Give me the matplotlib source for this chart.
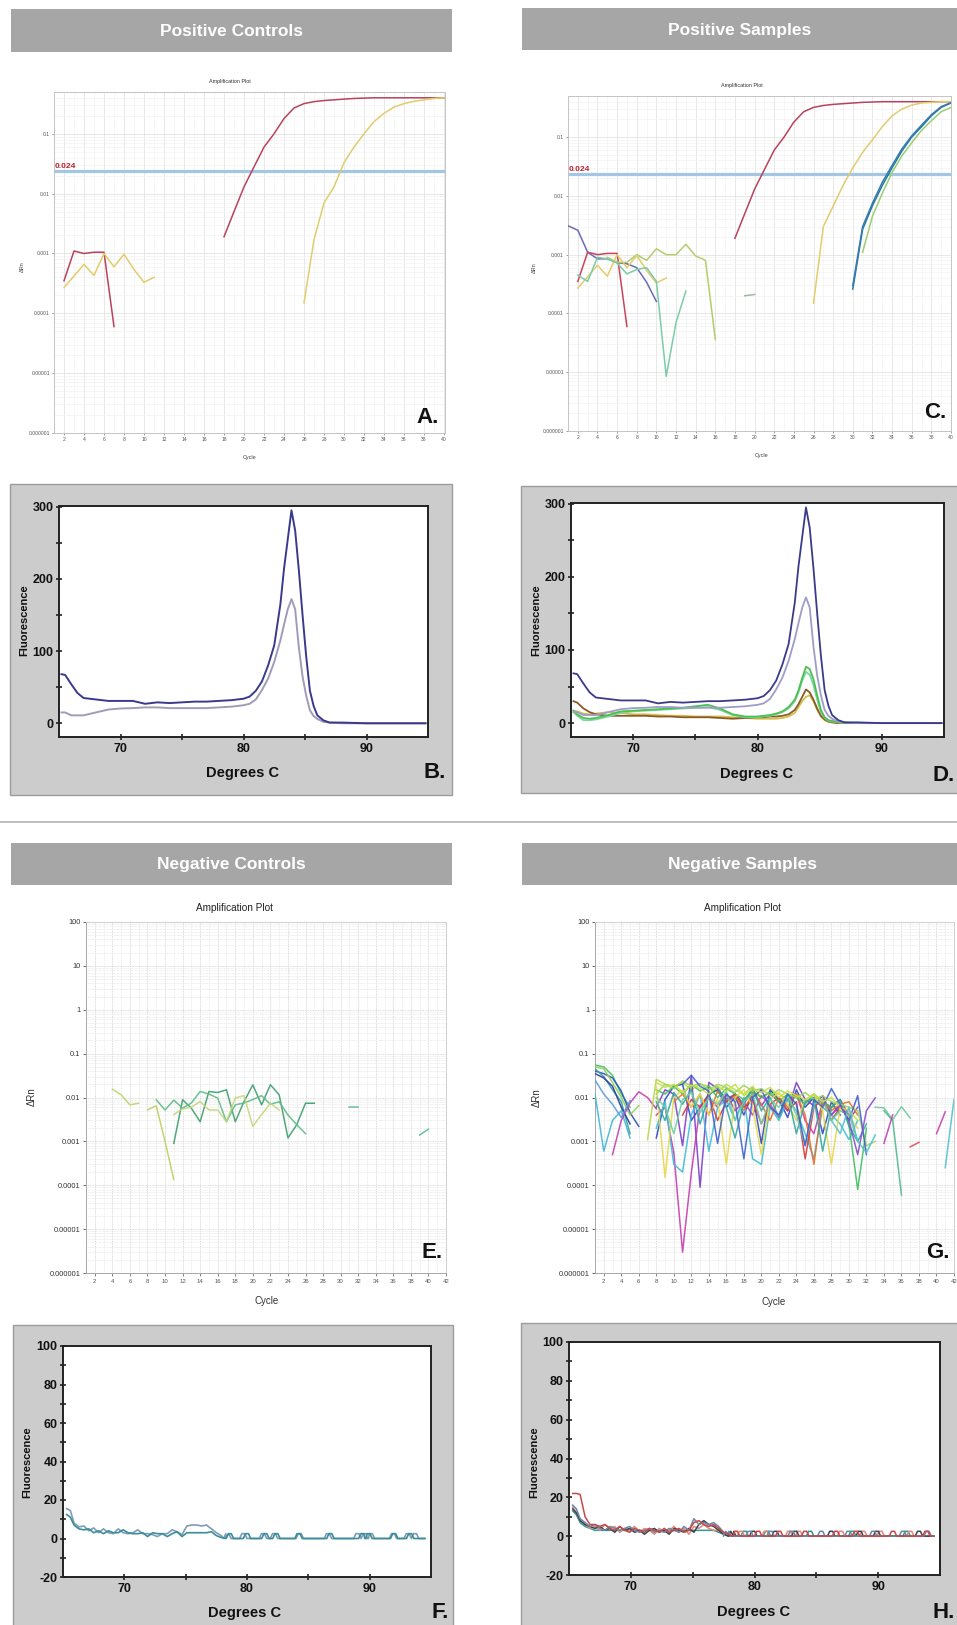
import matplotlib
matplotlib.use('Agg')
import matplotlib.pyplot as plt
from matplotlib.patches import Rectangle
from matplotlib.lines import Line2D
from matplotlib.ticker import LogLocator, NullFormatter
import numpy as np

W, H = 957, 1625
NARROW = ['Liberation Sans Narrow', 'Liberation Sans', 'DejaVu Sans']
SANS = ['Liberation Sans', 'DejaVu Sans']
plt.rcParams['font.family'] = SANS
plt.rcParams['axes.unicode_minus'] = False

# ---------------- DATA ----------------
threshold = 0.024
amp_small_yticks = [1e-6, 1e-5, 1e-4, 1e-3, 1e-2, 1e-1]
amp_small_ylabels = ['0.000001', '0.00001', '0.0001', '0.001', '0.01', '0.1']
amp_big_yticks = [1e-6, 1e-5, 1e-4, 1e-3, 1e-2, 1e-1, 1, 10, 100]
amp_big_ylabels = ['0.000001', '0.00001', '0.0001', '0.001', '0.01', '0.1', '1', '10', '100']

# Panel A (positive controls)
A_starts = [2, 18, 2, 26]
A_values = [
    [0.00035, 0.0011, 0.001, 0.00105, 0.00105, 0.00006],
    [0.0019, 0.005, 0.013, 0.028, 0.06, 0.1, 0.18, 0.27, 0.32, 0.345, 0.36, 0.37,
     0.38, 0.39, 0.395, 0.4, 0.4, 0.4, 0.4, 0.4, 0.4, 0.4, 0.4],
    [0.00027, 0.00042, 0.00066, 0.00043, 0.001, 0.0006, 0.00097, 0.00054, 0.00033, 0.0004],
    [0.00015, 0.0017, 0.007, 0.013, 0.033, 0.06, 0.1, 0.16, 0.22, 0.28, 0.32, 0.35,
     0.37, 0.39, 0.4],
]
A_colors = ['#b8435c', '#b8435c', '#e2cc6c', '#e2cc6c']

# Panel C (positive samples)
C_starts = [1, 2, 5, 2, 2, 19, 18, 26, 30, 30, 31]
C_values = [
    [0.0031, 0.0026, 0.0011, 0.00085, 0.00085, 0.00073, 0.0007, 0.0006, 0.00034, 0.00016],
    [0.00035, 0.0011, 0.001, 0.00105, 0.00105, 0.00006],
    [0.0009, 0.00074, 0.00074, 0.001, 0.0008, 0.00126, 0.001, 0.001, 0.0015, 0.00095,
     0.0008, 0.000036],
    [0.00027, 0.00042, 0.00066, 0.00043, 0.001, 0.0006, 0.00097, 0.00054, 0.00033, 0.0004],
    [0.00045, 0.00035, 0.0009, 0.00085, 0.00072, 0.00047, 0.00056, 0.0006, 0.00035,
     0.0000085, 0.00007, 0.00024],
    [0.0002, 0.00021],
    [0.0019, 0.005, 0.013, 0.028, 0.06, 0.1, 0.18, 0.27, 0.32, 0.345, 0.36, 0.37,
     0.38, 0.39, 0.395, 0.4, 0.4, 0.4, 0.4, 0.4, 0.4, 0.4, 0.4],
    [0.00015, 0.003, 0.0067, 0.015, 0.03, 0.055, 0.09, 0.15, 0.23, 0.3, 0.35, 0.38,
     0.39, 0.4, 0.4],
    [0.00026, 0.0027, 0.0068, 0.015, 0.03, 0.058, 0.1, 0.15, 0.23, 0.32, 0.38],
    [0.0003, 0.003, 0.0075, 0.017, 0.033, 0.063, 0.105, 0.16, 0.24, 0.33, 0.385],
    [0.0011, 0.0045, 0.011, 0.025, 0.048, 0.08, 0.13, 0.19, 0.27, 0.32],
]
C_colors = ['#6a6ab8', '#c8435c', '#b4cc6c', '#e2cc6c', '#7ccca8', '#a0b8a0',
            '#b8435c', '#e2cc6c', '#1f7f92', '#3a78b8', '#9ccc74']

# Panel E (negative controls)
E_starts = [4, 8, 11, 9, 11, 31, 39]
E_values = [
    [0.0155, 0.0115, 0.0068, 0.0074],
    [0.0052, 0.0065, 0.001, 0.000135],
    [0.0009, 0.0089, 0.0057, 0.0028, 0.0137, 0.013, 0.015, 0.0028, 0.0081, 0.0194,
     0.0068, 0.0195, 0.0115, 0.0012, 0.0024, 0.0074, 0.0074],
    [0.0089, 0.0052, 0.0087, 0.0057, 0.0075, 0.0137, 0.012, 0.0097, 0.0028, 0.0068,
     0.0075, 0.009, 0.011, 0.007, 0.008, 0.004, 0.0024, 0.0015],
    [0.0041, 0.0055, 0.006, 0.0081, 0.0052, 0.0052, 0.0028, 0.0098, 0.011, 0.0022,
     0.0041, 0.0074, 0.0052],
    [0.006, 0.006],
    [0.0014, 0.0019],
]
E_colors = ['#bcd46a', '#bcd060', '#3e9e6e', '#5cbc86', '#c4d67a', '#5ab88c', '#5ab8a0']

# Panel G (negative samples)
G_starts = [1, 1, 1, 1, 1, 1, 3, 1,
            7, 8, 8, 8, 8, 10, 11, 8, 8, 8, 8, 8, 11, 8, 28, 28,
            33, 34, 34, 37, 40, 41]
G_values = [
    [0.055, 0.05, 0.032, 0.012, 0.006],
    [0.04, 0.035, 0.028, 0.014, 0.0045, 0.0022],
    [0.012, 0.0006, 0.003, 0.005, 0.0012],
    [0.045, 0.03, 0.015, 0.008, 0.0015],
    [0.05, 0.045, 0.022, 0.01, 0.004, 0.0065],
    [0.035, 0.028, 0.018, 0.006, 0.0025],
    [0.0005, 0.003, 0.0075, 0.0135, 0.01, 0.0055],
    [0.025, 0.012, 0.007, 0.0035, 0.0085],
    [0.0011, 0.026, 0.02, 0.018, 0.022, 0.015, 0.02, 0.018, 0.013, 0.02, 0.015, 0.012,
     0.018, 0.01, 0.014, 0.012, 0.009, 0.011, 0.008, 0.009, 0.007, 0.006, 0.005, 0.004],
    [0.0012, 0.009, 0.018, 0.02, 0.003, 0.006, 0.012, 0.015, 0.006, 0.01, 0.004, 0.012,
     0.0009, 0.015, 0.009, 0.0035, 0.015, 0.006, 0.01, 0.0015, 0.008, 0.004],
    [0.006, 0.015, 0.012, 0.0008, 0.032, 0.00009, 0.022, 0.016, 0.009, 0.012, 0.007,
     0.016, 0.0065, 0.012, 0.008, 0.005, 0.022, 0.009, 0.0065, 0.011, 0.004, 0.007,
     0.003, 0.006],
    [0.004, 0.006, 0.00055, 0.000003, 0.00019, 0.0065, 0.01, 0.006, 0.012, 0.005,
     0.008, 0.004, 0.011, 0.007, 0.0035, 0.009, 0.012, 0.003, 0.0015, 0.008, 0.006,
     0.009, 0.004],
    [0.002, 0.008, 0.0003, 0.0002, 0.004, 0.012, 0.0006, 0.006, 0.009, 0.003, 0.01,
     0.0004, 0.0003, 0.006, 0.003, 0.009, 0.005, 0.0015, 0.0004, 0.006, 0.004,
     0.0025, 0.0011, 0.003],
    [0.008, 0.012, 0.006, 0.012, 0.004, 0.014, 0.008, 0.011, 0.005, 0.013, 0.007,
     0.003, 0.01, 0.006, 0.012, 0.004, 0.0003, 0.009, 0.005, 0.007, 0.008, 0.004],
    [0.004, 0.009, 0.006, 0.011, 0.003, 0.008, 0.012, 0.006, 0.009, 0.0025, 0.007,
     0.01, 0.005, 0.008, 0.0004, 0.006, 0.009, 0.003, 0.006, 0.004],
    [0.015, 0.012, 0.018, 0.012, 0.02, 0.014, 0.018, 0.01, 0.016, 0.012, 0.009, 0.014,
     0.01, 0.013, 0.008, 0.012, 0.01, 0.007, 0.012, 0.008, 0.006, 0.009, 0.0025,
     0.00008, 0.002],
    [0.018, 0.00015, 0.01, 0.015, 0.006, 0.012, 0.004, 0.009, 0.0003, 0.01, 0.015,
     0.006, 0.0005, 0.009, 0.013, 0.007, 0.003, 0.008, 0.012, 0.005, 0.0003, 0.006,
     0.0035, 0.002],
    [0.008, 0.003, 0.013, 0.007, 0.015, 0.0025, 0.011, 0.018, 0.006, 0.0012, 0.008,
     0.016, 0.005, 0.01, 0.0035, 0.012, 0.0015, 0.008, 0.01, 0.0006, 0.006, 0.009,
     0.0022, 0.001, 0.0025],
    [0.012, 0.02, 0.016, 0.024, 0.018, 0.021, 0.015, 0.02, 0.017, 0.013, 0.019, 0.014,
     0.016, 0.011, 0.015, 0.012, 0.01, 0.013, 0.009, 0.011, 0.008, 0.007, 0.006,
     0.005, 0.0008, 0.001],
    [0.01, 0.006, 0.0015, 0.009, 0.013, 0.0045, 0.01, 0.007, 0.014, 0.003, 0.008,
     0.012, 0.0025, 0.009, 0.006, 0.011, 0.004, 0.0008, 0.007, 0.009, 0.003, 0.005,
     0.004, 0.001],
    [0.02, 0.032, 0.018, 0.014, 0.0009, 0.012, 0.008, 0.0004, 0.01, 0.015, 0.006,
     0.004, 0.012, 0.007, 0.0008, 0.009, 0.006, 0.016, 0.007, 0.003, 0.011, 0.0005],
    [0.022, 0.017, 0.02, 0.013, 0.019, 0.016, 0.012, 0.018, 0.014, 0.02, 0.011, 0.016,
     0.013, 0.017, 0.01, 0.014, 0.011, 0.009, 0.012, 0.008, 0.01, 0.006, 0.005, 0.003],
    [0.004, 0.0065, 0.003, 0.0005, 0.005, 0.0098],
    [0.003, 0.0015, 0.006, 0.001, 0.00055, 0.0014],
    [0.006, 0.0058, 0.0031, 0.0062, 0.0034],
    [0.005, 0.003, 0.00006],
    [0.0009, 0.004],
    [0.00075, 0.00095],
    [0.0015, 0.0047],
    [0.00025, 0.009],
]
G_colors = ['#4cbf5c', '#2f4fbf', '#3fb7d4', '#2fa39a', '#8fd060', '#2a36a0', '#c43fb0',
            '#5a9ae0', '#b6d84a', '#3048c0', '#7a40c8', '#c83cae', '#40bcd8', '#e8702a',
            '#d83a3a', '#3fbf5f', '#e8d84a', '#30a8a0', '#9ad65a', '#6cd0a0', '#4060d0',
            '#c8e040', '#8a4ad0', '#50c0d0', '#70c8a0', '#50b890', '#c43fb0', '#e05050',
            '#c43fb0', '#50c0d0']

# Melt curves B / D
melt_T = [65.2, 65.5, 66.0, 66.5, 67.0, 68.0, 69.0, 70.0, 71.0, 72.0, 73.0, 74.0, 75.0,
          76.0, 77.0, 78.0, 79.0, 80.0, 80.5, 81.0, 81.5, 82.0, 82.5, 83.0, 83.3, 83.6,
          83.9, 84.2, 84.5, 84.8, 85.1, 85.4, 85.7, 86.0, 86.5, 87.0, 88.0, 90.0, 92.0,
          94.8]
melt_blue = [68, 67, 54, 42, 35, 33, 31, 31, 31, 27, 29, 28, 29, 30, 30, 31, 32, 34, 37,
             45, 58, 80, 108, 165, 215, 255, 295, 267, 212, 150, 92, 45, 24, 11, 4, 1, 1,
             0, 0, 0]
melt_gray = [15, 15, 11, 11, 11, 15, 19, 20.5, 21, 22, 22, 21, 21, 21, 21, 22, 23, 25,
             27, 33, 46, 62, 85, 115, 137, 158, 172, 158, 105, 65, 38, 18, 10, 6, 2, 1,
             0, 0, 0, 0]
melt_green = [17, 12, 7, 6, 7, 11, 16, 17, 18, 19, 20, 21, 23, 25, 20, 12, 9, 9, 10, 11,
              13, 16, 22, 32, 45, 62, 77, 74, 60, 38, 18, 8, 4, 3, 1, 0, 0, 0, 0, 0]
melt_teal = [15, 10, 4, 4, 5, 9, 14, 16, 17, 18, 19, 20, 21, 22, 18, 11, 8, 8, 9, 10,
             12, 15, 20, 30, 42, 58, 70, 66, 52, 32, 15, 7, 3, 2, 1, 0, 0, 0, 0, 0]
melt_brown = [30, 28, 20, 15, 12, 10, 10, 10, 10, 9, 9, 8, 8, 8, 7, 6, 7, 8, 8, 9, 9,
              10, 12, 18, 26, 36, 46, 42, 32, 20, 10, 5, 2, 1, 0, 0, 0, 0, 0, 0]
melt_yellow = [17, 16, 13, 12, 13, 15, 14, 12, 12, 11, 10, 10, 9, 9, 9, 8, 7, 6, 6, 6,
               6, 7, 9, 14, 22, 30, 36, 38, 30, 18, 9, 4, 2, 1, 0, 0, 0, 0, 0, 0]
B_lines = [melt_gray, melt_blue]
B_colors = ['#a09cb8', '#3a3a8c']
D_lines = [melt_yellow, melt_brown, melt_teal, melt_green, melt_gray, melt_blue]
D_colors = ['#d4be48', '#8a5a28', '#80d4a0', '#4cc050', '#a09cc8', '#3a3a8c']

# Melt curves F / H (negative)
neg_T = [65.3, 65.6, 65.9, 66.3, 66.7, 67.1, 67.5, 67.9, 68.3, 68.7, 69.1, 69.5, 69.9,
         70.3, 70.7, 71.1, 71.5, 71.9, 72.3, 72.7, 73.1, 73.5, 73.9, 74.3, 74.7, 75.1,
         75.5, 75.9, 76.3, 76.7, 77.1, 77.5, 77.9, 78.3, 94.5]
F_lines = [
    [15.5, 14.5, 8, 6, 6.5, 4, 5.5, 3, 5, 3, 2.5, 5, 3, 2.5, 3, 4.5, 2.5, 2.5, 2, 1, 2.5,
     2.5, 4.5, 3.5, 2, 6.5, 7, 7, 6.5, 7, 5, 3, 1.5, 0.5, 0],
    [12.5, 11, 7, 5, 4.5, 5, 3, 4, 2.5, 4, 3, 3, 4.5, 3, 2.5, 2.5, 3, 1, 3, 2.5, 2.5, 1,
     2.5, 3.5, 1, 3, 3, 3, 3, 3, 3.5, 1.5, 0.5, 0, 0],
]
F_bumps = [
    [78.4, 79.7, 81.3, 82.2, 84.3, 86.6, 89.0, 89.6, 90.1, 91.9, 93.1, 93.7],
    [78.6, 80.0, 81.5, 82.4, 84.2, 86.8, 89.4, 89.9, 92.0, 93.3],
]
F_colors = ['#7e9cb8', '#3a8e98']
H_lines = [
    [13, 11, 7, 5, 4, 3, 3, 3, 3, 3, 3, 3, 3, 3, 3, 3, 3, 3, 3, 3, 3, 3, 3, 3, 3, 3, 3,
     3, 3, 3, 2, 1, 0, 0, 0],
    [15, 12, 8, 6, 4, 5, 3, 6, 4, 5, 2, 4, 3, 5, 2, 4, 3, 1, 4, 2, 3, 5, 2, 4, 1, 5, 4,
     6, 4, 3, 3, 2, 0.5, 0, 0],
    [14, 12, 8, 6, 5, 4, 5, 3, 4, 2, 5, 3, 4, 2, 3, 1, 3, 4, 2, 3, 1, 4, 3, 2, 4, 2, 6,
     8, 6, 5, 3, 1, 0, 0, 0],
    [16, 14, 9, 7, 5, 6, 4, 3, 5, 4, 3, 4, 5, 3, 2, 3, 4, 2, 3, 2, 4, 3, 2, 5, 3, 9, 6,
     7, 6, 7, 5, 2, 1, 0, 0],
    [22, 22, 21.5, 10, 6, 6, 5, 6, 4, 3, 5, 3, 2, 4, 3, 2, 4, 3, 2, 4, 2, 3, 4, 2, 3, 7,
     8, 6, 5, 6, 4, 2, 1, 0, 0],
]
H_bumps = [
    [79.2, 81.0, 84.5, 87.9, 92.3],
    [78.9, 80.9, 82.8, 83.6, 87.0, 88.8, 90.2, 92.6],
    [78.2, 79.9, 81.7, 83.3, 86.2, 88.5, 89.9, 93.3],
    [77.8, 79.6, 81.3, 83.0, 85.4, 87.6, 89.6, 92.0, 94.0],
    [78.5, 80.3, 82.0, 84.1, 86.6, 88.2, 91.2, 93.9],
]
H_colors = ['#2e9a90', '#e08a7a', '#3c4450', '#6a88a8', '#c84848']

# ---------------- FIGURE ----------------
fig = plt.figure(figsize=(W / 100, H / 100), dpi=100)
fig.patch.set_facecolor('white')


def frect(l, t, r, b):
    return [l / W, 1 - b / H, (r - l) / W, (b - t) / H]


def ftext(x, y, s, **kw):
    fig.text(x / W, 1 - y / H, s, **kw)


def frame(l, t, r, b, fc, ec='none', lw=0):
    fig.add_artist(Rectangle((l / W, 1 - b / H), (r - l) / W, (b - t) / H,
                             transform=fig.transFigure, facecolor=fc,
                             edgecolor=ec, linewidth=lw, zorder=0))


def header(l, t, r, b, s, cx):
    frame(l, t, r, b, '#a6a6a6')
    ftext(cx, (t + b) / 2 + 1, s, ha='center', va='center', color='white',
          fontsize=12.5, fontweight='bold', family=NARROW)


def series(start, vals):
    x = np.arange(start, start + len(vals))
    y = np.array([np.nan if v is None else v for v in vals], float)
    return x, y


def amp_small(rect, starts, values, colors, xmax):
    ax = fig.add_axes(frect(*rect))
    ax.set_yscale('log')
    ax.set_xlim(1, xmax)
    ax.set_ylim(1e-6, 0.5)
    ax.set_yticks(amp_small_yticks)
    ax.set_yticklabels(amp_small_ylabels)
    ax.yaxis.set_minor_locator(LogLocator(base=10, subs=np.arange(2, 10)))
    ax.yaxis.set_minor_formatter(NullFormatter())
    ax.set_xticks(range(2, 41, 2))
    ax.set_xticks(range(1, 41), minor=True)
    ax.tick_params(labelsize=3.6, length=1.5, width=0.4, colors='#555555', pad=1.5)
    ax.tick_params(which='minor', length=0)
    ax.grid(which='major', color='#dedede', lw=0.5)
    ax.grid(which='minor', color='#f0f0f0', lw=0.4)
    ax.set_axisbelow(True)
    for sp in ax.spines.values():
        sp.set_color('#c4c4c4')
        sp.set_linewidth(0.7)
    ax.axhline(threshold, color='#a3c6e2', lw=2.3, zorder=2)
    ax.text(1.05, threshold * 1.04, '0.024', color='#c0202c', fontsize=6,
            fontweight='bold', family=NARROW, ha='left', va='bottom', zorder=4)
    for s, v, c in zip(starts, values, colors):
        x, y = series(s, v)
        ax.plot(x, y, color=c, lw=1.1, zorder=3)
    return ax


def amp_big(rect, starts, values, colors):
    ax = fig.add_axes(frect(*rect))
    ax.set_yscale('log')
    ax.set_xlim(1, 42)
    ax.set_ylim(1e-6, 100)
    ax.set_yticks(amp_big_yticks)
    ax.set_yticklabels(amp_big_ylabels)
    ax.yaxis.set_minor_locator(LogLocator(base=10, subs=np.arange(2, 10)))
    ax.yaxis.set_minor_formatter(NullFormatter())
    ax.set_xticks(range(2, 43, 2))
    ax.set_xticks(range(1, 43), minor=True)
    ax.tick_params(axis='y', labelsize=5.3, length=2, width=0.5, colors='#333333', pad=2)
    ax.tick_params(axis='x', labelsize=4.3, length=2, width=0.5, colors='#555555', pad=2)
    ax.tick_params(which='minor', length=0)
    ax.grid(which='major', color='#cfcfcf', lw=0.6, ls=(0, (1, 1)))
    ax.grid(which='minor', color='#e2e2e2', lw=0.5, ls=(0, (1, 1)))
    ax.set_axisbelow(True)
    for k, sp in ax.spines.items():
        sp.set_color('#a8a8a8' if k in ('left', 'bottom') else '#d0d0d0')
        sp.set_linewidth(0.7)
    for s, v, c in zip(starts, values, colors):
        x, y = series(s, v)
        ax.plot(x, y, color=c, lw=1.1, alpha=0.9, zorder=3)
    return ax


def melt_axes(rect, ylim, yticks, yminor):
    ax = fig.add_axes(frect(*rect))
    ax.set_facecolor('white')
    ax.set_xlim(65, 95)
    ax.set_ylim(*ylim)
    ax.set_xticks([70, 80, 90])
    ax.set_xticks([75, 85], minor=True)
    ax.set_yticks(yticks)
    ax.set_yticks(yminor, minor=True)
    ax.tick_params(which='both', direction='inout', width=1.2, colors='#222222', pad=1.5)
    ax.tick_params(which='major', length=5)
    ax.tick_params(which='minor', length=4)
    for lbl in ax.get_xticklabels() + ax.get_yticklabels():
        lbl.set_family(NARROW)
        lbl.set_fontweight('bold')
        lbl.set_fontsize(9)
        lbl.set_color('#111111')
    for sp in ax.spines.values():
        sp.set_color('#222222')
        sp.set_linewidth(1.4)
    return ax


def with_bumps(T, v, bumps, h=2.5):
    xs = list(T[:-1])
    ys = list(v[:-1])
    for b in bumps:
        xs += [b - 0.3, b - 0.12, b + 0.12, b + 0.3]
        ys += [0, h, h, 0]
    xs.append(T[-1])
    ys.append(v[-1])
    order = np.argsort(xs, kind='stable')
    return np.array(xs)[order], np.array(ys)[order]


def panel_letter(x, y, s):
    ftext(x, y, s, ha='center', va='center', fontsize=16, fontweight='bold',
          family=NARROW, color='#111111')


def fluo_label(x, y):
    ftext(x, y, 'Fluorescence', ha='center', va='center', rotation=90, fontsize=8,
          fontweight='bold', color='#111111')


def degc_label(x, y):
    ftext(x, y, 'Degrees C', ha='center', va='center', fontsize=10.5,
          fontweight='bold', family=NARROW, color='#111111')


# separator
fig.add_artist(Line2D([0, 1], [1 - 822 / H] * 2, transform=fig.transFigure,
                      color='#b4b4b4', lw=1.2))

# ---- headers ----
header(11, 9, 452, 52, 'Positive Controls', 231)
header(522, 8, 962, 50, 'Positive Samples', 740)
header(11, 843, 452, 885, 'Negative Controls', 231)
header(522, 843, 962, 885, 'Negative Samples', 742)

# ---- A ----
axA = amp_small((54, 92, 445, 433), A_starts, A_values, A_colors, 40.1)
ftext(230, 82, 'Amplification Plot', ha='center', va='center', fontsize=3.9,
      family=NARROW, color='#333333')
ftext(250, 457, 'Cycle', ha='center', va='center', fontsize=4, family=NARROW,
      color='#444444')
ftext(22, 267, 'ΔRn', ha='center', va='center', rotation=90, fontsize=4,
      color='#444444')
panel_letter(428, 417, 'A.')

# ---- C ----
axC = amp_small((568, 96, 951, 431), C_starts, C_values, C_colors, 40)
ftext(742, 86, 'Amplification Plot', ha='center', va='center', fontsize=3.9,
      family=NARROW, color='#333333')
ftext(762, 455, 'Cycle', ha='center', va='center', fontsize=4, family=NARROW,
      color='#444444')
ftext(534, 268, 'ΔRn', ha='center', va='center', rotation=90, fontsize=4,
      color='#444444')
panel_letter(935, 413, 'C.')

# ---- B ----
frame(10, 484, 452, 795, '#cccccc', '#9c9c9c', 1.0)
axB = melt_axes((59, 506, 428, 737), (-19, 301), [0, 100, 200, 300], [50, 150, 250])
for v, c in zip(B_lines, B_colors):
    axB.plot(melt_T, v, color=c, lw=1.4)
fluo_label(24, 620)
degc_label(243, 773)
panel_letter(435, 773, 'B.')

# ---- D ----
frame(521, 486, 962, 793, '#cccccc', '#9c9c9c', 1.0)
axD = melt_axes((571, 503, 944, 737), (-19, 301), [0, 100, 200, 300], [50, 150, 250])
for v, c in zip(D_lines, D_colors):
    axD.plot(melt_T, v, color=c, lw=1.3)
fluo_label(536, 620)
degc_label(757, 774)
panel_letter(944, 775, 'D.')

# ---- E ----
axE = amp_big((86, 922, 446, 1273), E_starts, E_values, E_colors)
ftext(234, 908, 'Amplification Plot', ha='center', va='center', fontsize=7.2,
      color='#222222')
ftext(267, 1301, 'Cycle', ha='center', va='center', fontsize=7, color='#333333')
ftext(32, 1097, 'ΔRn', ha='center', va='center', rotation=90, fontsize=7,
      color='#333333')
panel_letter(432, 1253, 'E.')

# ---- G ----
axG = amp_big((595, 922, 954, 1273), G_starts, G_values, G_colors)
ftext(742, 908, 'Amplification Plot', ha='center', va='center', fontsize=7.2,
      color='#222222')
ftext(774, 1302, 'Cycle', ha='center', va='center', fontsize=7, color='#333333')
ftext(537, 1098, 'ΔRn', ha='center', va='center', rotation=90, fontsize=7,
      color='#333333')
panel_letter(938, 1253, 'G.')

# ---- F ----
frame(13, 1325, 453, 1640, '#cccccc', '#9c9c9c', 1.0)
axF = melt_axes((63, 1346, 431, 1577), (-20, 100), list(range(-20, 101, 20)),
                list(range(-10, 100, 20)))
for v, bm, c in zip(F_lines, F_bumps, F_colors):
    x, y = with_bumps(neg_T, v, bm)
    axF.plot(x, y, color=c, lw=1.2)
fluo_label(27, 1462)
degc_label(245, 1613)
panel_letter(440, 1612, 'F.')

# ---- H ----
frame(521, 1323, 962, 1640, '#cccccc', '#9c9c9c', 1.0)
axH = melt_axes((569, 1342, 940, 1575), (-20, 100), list(range(-20, 101, 20)),
                list(range(-10, 100, 20)))
for v, bm, c in zip(H_lines, H_bumps, H_colors):
    x, y = with_bumps(neg_T, v, bm)
    axH.plot(x, y, color=c, lw=1.1)
fluo_label(534, 1462)
degc_label(754, 1612)
panel_letter(944, 1612, 'H.')

fig.savefig('out.png', dpi=100, facecolor='white')
